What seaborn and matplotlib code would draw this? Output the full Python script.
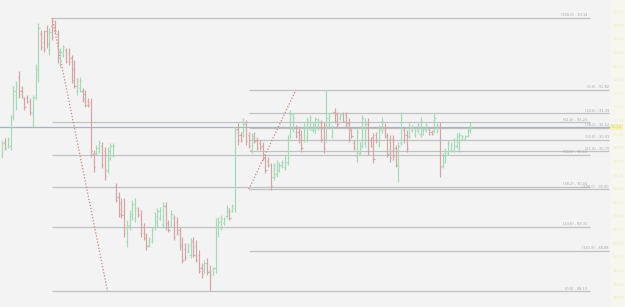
import numpy as np
import pandas as pd
import matplotlib
matplotlib.use("Agg")
import matplotlib.pyplot as plt
import seaborn as sns

# ---- OHLC data ----
highs = [90.90, 90.94, 90.96, 91.36, 91.89, 91.98, 92.17, 91.89, 91.69, 91.73,
         91.67, 91.73, 92.30, 93.05, 92.92, 92.92, 93.01, 92.96, 93.14, 93.10,
         92.92, 92.59, 92.64, 92.59, 92.59, 92.46, 92.37, 92.04, 92.06, 91.86,
         91.82, 91.67, 91.67, 90.72, 90.81, 90.90, 90.86, 90.77, 90.77, 90.85,
         90.85, 90.11, 89.95, 89.84, 89.84, 89.43, 89.62, 89.80, 89.84, 89.67,
         89.62, 89.38, 89.19, 89.12, 89.31, 89.58, 89.65, 89.67, 89.76, 89.76,
         89.43, 89.62, 89.52, 89.49, 89.31, 89.12, 89.01, 89.01, 89.10, 89.12,
         89.07, 88.88, 88.65, 88.70, 88.74, 88.61, 88.57, 89.47, 89.49, 89.52,
         89.49, 89.71, 89.65, 89.72,
         91.14, 91.21, 91.05, 91.30, 91.27, 91.05, 91.03, 91.05, 90.96, 90.90,
         90.86, 90.63, 90.59, 90.48, 90.48, 90.53, 90.50, 90.53, 90.63, 90.99,
         91.45, 91.40, 91.18, 91.12, 91.08, 91.21, 91.32, 91.36, 91.23, 91.32,
         91.30, 91.27, 91.23, 91.82, 91.40, 91.18, 91.49, 91.42, 91.40, 91.42,
         91.42, 91.30, 91.14, 90.90, 91.12, 90.86, 91.36, 91.30, 91.30, 90.96,
         91.03, 91.05, 91.18, 91.32, 91.21, 91.03, 90.99, 90.99, 90.81, 90.86,
         91.42, 91.14, 91.08, 91.21, 91.18, 91.12, 91.21, 91.32, 91.12, 91.21,
         91.14, 91.08, 91.40, 91.21, 91.23, 90.66, 90.75, 90.90, 90.86, 90.94,
         91.03, 91.05, 90.99, 90.99, 91.14, 91.23]
lows = [90.57, 90.72, 90.75, 90.72, 91.27, 91.45, 91.67, 91.67, 91.45, 91.58,
        91.36, 91.14, 91.63, 91.97, 92.55, 92.52, 92.59, 92.46, 92.74, 92.86,
        92.31, 92.24, 92.42, 92.31, 92.28, 91.95, 91.86, 91.73, 91.78, 91.60,
        91.51, 91.51, 90.59, 90.31, 90.63, 90.66, 90.39, 90.17, 90.30, 90.53,
        90.59, 89.76, 89.49, 89.47, 89.12, 88.94, 89.25, 89.43, 89.40, 89.49,
        89.12, 89.07, 88.88, 88.94, 89.01, 89.25, 89.31, 89.43, 89.29, 89.25,
        89.21, 89.31, 89.07, 89.16, 88.88, 88.65, 88.70, 88.83, 88.74, 88.75,
        88.66, 88.46, 88.37, 88.46, 88.42, 88.13, 88.42, 88.46, 89.12, 89.25,
        89.34, 89.47, 89.43, 89.58,
        89.58, 90.81, 90.86, 90.96, 90.81, 90.75, 90.66, 90.85, 90.72, 90.72,
        90.53, 90.30, 90.41, 89.98, 90.17, 90.22, 90.31, 90.39, 90.35, 90.44,
        90.94, 91.05, 90.94, 90.85, 90.68, 90.86, 90.86, 91.08, 91.05, 91.03,
        91.08, 90.86, 90.66, 90.86, 91.14, 90.94, 91.21, 91.14, 91.27, 91.23,
        91.14, 90.86, 90.94, 90.72, 90.50, 90.63, 90.75, 90.77, 90.63, 90.77,
        90.48, 90.85, 90.77, 91.03, 90.94, 90.59, 90.50, 90.53, 90.41, 90.13,
        90.81, 90.85, 90.68, 90.94, 91.05, 90.96, 91.03, 90.96, 90.99, 91.05,
        90.99, 90.99, 91.03, 91.03, 90.22, 90.39, 90.48, 90.63, 90.68, 90.68,
        90.75, 90.68, 90.90, 90.90, 90.96, 91.03]
opens = [90.62, 90.86, 90.78, 90.80, 91.32, 91.72, 92.05, 91.80, 91.65, 91.68,
         91.60, 91.40, 91.70, 92.10, 92.85, 92.70, 92.90, 92.55, 93.00, 93.02,
         92.85, 92.30, 92.46, 92.55, 92.50, 92.40, 92.20, 91.80, 91.85, 91.80,
         91.75, 91.62, 91.60, 90.65, 90.66, 90.70, 90.80, 90.70, 90.35, 90.58,
         90.62, 90.05, 89.85, 89.75, 89.60, 89.05, 89.32, 89.50, 89.48, 89.62,
         89.55, 89.30, 89.10, 88.97, 89.05, 89.30, 89.40, 89.48, 89.35, 89.70,
         89.38, 89.35, 89.48, 89.40, 89.25, 89.00, 88.90, 88.86, 88.80, 89.05,
         88.95, 88.80, 88.55, 88.50, 88.65, 88.50, 88.45, 88.55, 89.20, 89.30,
         89.38, 89.50, 89.60, 89.60,
         89.65, 91.10, 91.00, 91.00, 91.20, 91.00, 90.72, 90.98, 90.90, 90.85,
         90.80, 90.58, 90.52, 90.45, 90.22, 90.28, 90.35, 90.42, 90.40, 90.50,
         91.00, 91.10, 91.12, 91.05, 91.00, 90.90, 90.95, 91.12, 91.08, 91.08,
         91.12, 91.22, 91.15, 90.92, 91.18, 90.98, 91.42, 91.38, 91.30, 91.38,
         91.36, 91.22, 91.08, 90.85, 90.60, 90.66, 90.80, 90.85, 91.20, 90.90,
         90.95, 91.00, 90.82, 91.08, 91.15, 90.98, 90.90, 90.92, 90.75, 90.45,
         90.85, 91.08, 91.00, 90.98, 91.08, 91.00, 91.06, 91.02, 91.02, 91.08,
         91.10, 91.05, 91.06, 91.06, 91.15, 90.42, 90.52, 90.66, 90.70, 90.72,
         90.80, 90.72, 90.92, 90.92, 90.98, 91.06]
closes = [90.84, 90.75, 90.92, 91.30, 91.80, 91.92, 91.75, 91.70, 91.50, 91.62,
          91.42, 91.68, 92.20, 92.95, 92.60, 92.58, 92.66, 92.88, 92.80, 92.90,
          92.40, 92.52, 92.60, 92.36, 92.33, 92.00, 91.90, 91.98, 92.00, 91.65,
          91.55, 91.55, 90.70, 90.40, 90.76, 90.85, 90.45, 90.25, 90.70, 90.80,
          90.80, 89.80, 89.55, 89.52, 89.20, 89.35, 89.55, 89.72, 89.65, 89.52,
          89.20, 89.10, 88.95, 89.08, 89.25, 89.50, 89.60, 89.62, 89.70, 89.30,
          89.25, 89.55, 89.12, 89.20, 88.95, 88.70, 88.75, 88.97, 89.05, 88.80,
          88.70, 88.50, 88.45, 88.65, 88.48, 88.40, 88.55, 89.30, 89.40, 89.48,
          89.45, 89.65, 89.48, 89.70,
          91.05, 90.90, 90.90, 91.20, 90.88, 90.80, 90.98, 90.88, 90.76, 90.75,
          90.58, 90.35, 90.45, 90.05, 90.42, 90.45, 90.45, 90.50, 90.58, 90.92,
          91.38, 91.30, 90.98, 90.90, 90.75, 91.15, 91.25, 91.30, 91.20, 91.28,
          91.26, 90.92, 90.75, 91.30, 91.35, 91.12, 91.25, 91.20, 91.37, 91.26,
          91.18, 90.92, 90.98, 90.75, 91.05, 90.82, 91.30, 91.20, 90.70, 90.80,
          90.55, 90.88, 91.10, 91.25, 90.98, 90.65, 90.58, 90.60, 90.45, 90.80,
          91.30, 90.90, 90.75, 91.15, 91.15, 91.08, 91.18, 91.25, 91.10, 91.18,
          91.02, 91.01, 91.30, 91.18, 90.40, 90.60, 90.70, 90.85, 90.82, 90.90,
          90.98, 91.00, 90.97, 90.97, 91.10, 91.14]

# Fibonacci objects: (bar index, price) anchors
fib1_levels = [0.0, 23.6, 38.2, 50.0, 61.8, 100.0]
fib1_start = (18, 93.14)   # 100 %
fib1_end = (38, 88.13)     # 0 %
fib2_levels = [0.0, 23.6, 38.2, 50.0, 61.8, 100.0, 161.8]
fib2_start = (89, 90.00)   # 100 %
fib2_end = (106, 91.82)    # 0 %

axis_prices = [88.00, 88.25, 88.50, 88.75, 89.00, 89.25, 89.50, 89.75, 90.00,
               90.25, 90.50, 90.75, 91.00, 91.25, 91.50, 91.75, 92.00, 92.25,
               92.50, 92.75, 93.00, 93.25]

df = pd.DataFrame({"open": opens, "high": highs, "low": lows, "close": closes})
df["bar"] = np.arange(len(df))
df["dir"] = np.where(df["close"] >= df["open"], "up", "down")

sns.set_style("white")
plt.rcParams["font.family"] = ["DejaVu Sans"]

W, H = 625, 307
fig = plt.figure(figsize=(W / 100, H / 100), dpi=100)
fig.patch.set_facecolor("#f7f7f0")
ax = fig.add_axes([0, 0, 610 / W, 1])
ax.set_facecolor("#f3f3f3")

green = "#a4dab6"
red = "#d3a5a5"
cols = [green if d == "up" else red for d in df["dir"]]

label_kw = dict(ha="right", va="bottom", fontsize=2.55, color="#a6a6a6", zorder=3)

# fib 1
fx0, fp100 = fib1_start
fx1, fp0 = fib1_end
fib1_right = 212
for lv in fib1_levels:
    p = fp0 + lv / 100 * (fp100 - fp0)
    ax.hlines(p, fx0, fib1_right, color="#c2c2c2", lw=0.9, zorder=1)
    ax.text(fib1_right - 0.8, p + 0.012, f"({lv:.1f}) - {p:.2f}", **label_kw)
ax.plot([fx0, fx1], [fp100, fp0], color="#cc8585", lw=0.9, ls=(0, (1, 1.5)), zorder=2)

# fib 2
gx0, gp100 = fib2_start
gx1, gp0 = fib2_end
fib2_right = 219
for lv in fib2_levels:
    p = gp0 - lv / 100 * (gp0 - gp100)
    ax.hlines(p, gx0, fib2_right, color="#c2c2c2", lw=0.9, zorder=1)
    ax.text(fib2_right, p + 0.012, f"({lv:.1f}) - {p:.2f}", **label_kw)
ax.plot([gx0, gx1], [gp100, gp0], color="#cc8585", lw=0.9, ls=(0, (1, 1.5)), zorder=2)

# bid line
ax.axhline(closes[-1], color="#aab2c6", lw=0.9, zorder=1)

# OHLC bars
ax.vlines(df["bar"], df["low"], df["high"], colors=cols, lw=0.85, zorder=4)
ax.hlines(df["open"], df["bar"] - 0.45, df["bar"], colors=cols, lw=0.85, zorder=4)
ax.hlines(df["close"], df["bar"], df["bar"] + 0.45, colors=cols, lw=0.85, zorder=4)

ax.set_xlim(-0.83, 219.4)
ax.set_ylim(87.84, 93.47)
ax.set_xticks([])
ax.set_yticks([])
for s in ax.spines.values():
    s.set_visible(False)

# faint right price scale
for p in axis_prices:
    yf = (p - 87.84) / (93.47 - 87.84)
    fig.text(613 / W, yf, f"{p:.2f}", fontsize=3.0, color="#ecebcc", va="center", ha="left")
yb = (closes[-1] - 87.84) / (93.47 - 87.84)
fig.text(611 / W, yb, f"{closes[-1]:.2f}", fontsize=3.0, color="#d8d6a0", va="center",
         ha="left", bbox=dict(boxstyle="square,pad=0.15", fc="#f3f1b8", ec="none"))

fig.savefig("out.png", dpi=100, facecolor=fig.get_facecolor())
